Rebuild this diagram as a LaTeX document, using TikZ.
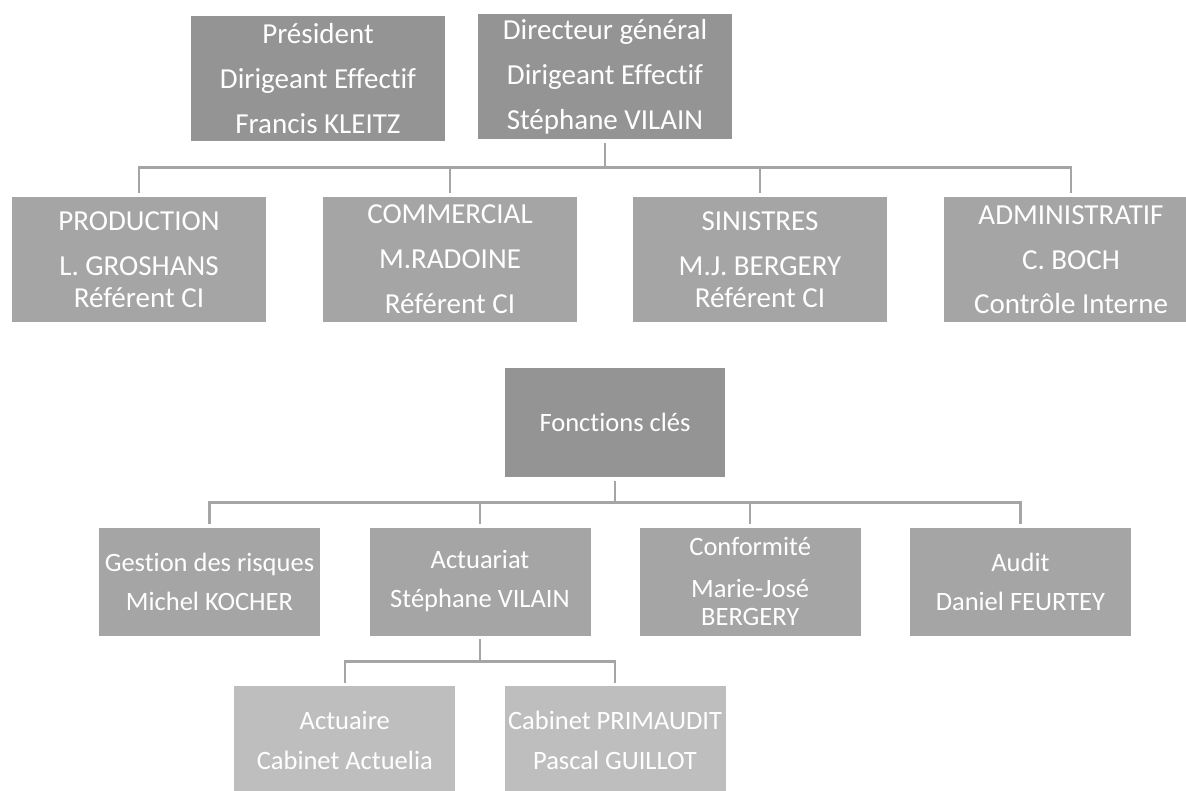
\documentclass[tikz,border=0pt]{standalone}
\usepackage{fontspec}
\setmainfont{Carlito}[Ligatures=NoCommon]
\definecolor{boxdark}{HTML}{949494}
\definecolor{boxmid}{HTML}{A5A5A5}
\definecolor{boxlight}{HTML}{BEBEBE}
\definecolor{linkgray}{HTML}{A5A5A5}
\tikzstyle{headbox} = [fill=boxdark,text=white,align=center,inner sep=0pt,minimum width=254pt,minimum height=125pt,font=\fontsize{29pt}{45pt}\selectfont]
\tikzstyle{deptbox} = [headbox,fill=boxmid]
\tikzstyle{keybox} = [fill=boxmid,text=white,align=center,inner sep=0pt,minimum width=221pt,minimum height=108pt,font=\fontsize{26.5pt}{39pt}\selectfont]
\tikzstyle{subbox} = [keybox,fill=boxlight,font=\fontsize{26.5pt}{40pt}\selectfont]
\tikzstyle{link} = [draw=linkgray,line width=2.5pt]

\begin{document}
\begin{tikzpicture}[x=1pt,y=-1pt]
\useasboundingbox (0,0) rectangle (1186,790);

%direction
\node[headbox] (pres) at (318,78.5) {Président\\Dirigeant Effectif\\Francis KLEITZ};
\node[headbox] (dg) at (605,76.8) {Directeur général\\Dirigeant Effectif\\Stéphane VILAIN};

%services
\node[deptbox] (prod) at (139,259.2) {PRODUCTION\\L. GROSHANS\\[-13pt]Référent CI};
\node[deptbox] (com) at (450,259.2) {COMMERCIAL\\M.RADOINE\\Référent CI};
\node[deptbox] (sin) at (760,259.2) {SINISTRES\\M.J. BERGERY\\[-13pt]Référent CI};
\node[deptbox] (adm) at (1071,259.2) {ADMINISTRATIF\\C. BOCH\\[-1pt]Contrôle Interne};

\coordinate (bus1) at (605,167.7);
\draw[link,shorten <=3.4pt] (dg.south) -- (bus1);
\foreach \n in {prod,com,sin,adm}
{
\draw[link,shorten >=3.7pt] (bus1) -| (\n.north);
}

%fonctions cles
\node[headbox,minimum width=220pt,minimum height=109pt,font=\fontsize{26.5pt}{39pt}\selectfont] (fc) at (615,422.8) {Fonctions clés};

\node[keybox] (gest) at (209.5,581.5) {Gestion des risques\\Michel KOCHER};
\node[keybox] (act) at (480,581.5) {Actuariat\\Stéphane VILAIN};
\node[keybox] (conf) at (750.2,581.5) {Conformité\\[3pt]Marie-José\\[-11pt]BERGERY};
\node[keybox] (aud) at (1020.4,581.5) {Audit\\Daniel FEURTEY};

\coordinate (bus2) at (615,502.3);
\draw[link,shorten <=3.4pt] (fc.south) -- (bus2);
\foreach \n in {gest,act,conf,aud}
{
\draw[link,shorten >=3.3pt] (bus2) -| (\n.north);
}

%actuariat
\node[subbox] (actr) at (344.8,740) {Actuaire\\Cabinet Actuelia};
\node[subbox] (prim) at (615,740) {Cabinet PRIMAUDIT\\Pascal GUILLOT};

\coordinate (bus3) at (480,661.7);
\draw[link,shorten <=3.6pt] (act.south) -- (bus3);
\foreach \n in {actr,prim}
{
\draw[link,shorten >=3.3pt] (bus3) -| (\n.north);
}

\end{tikzpicture}
\end{document}
